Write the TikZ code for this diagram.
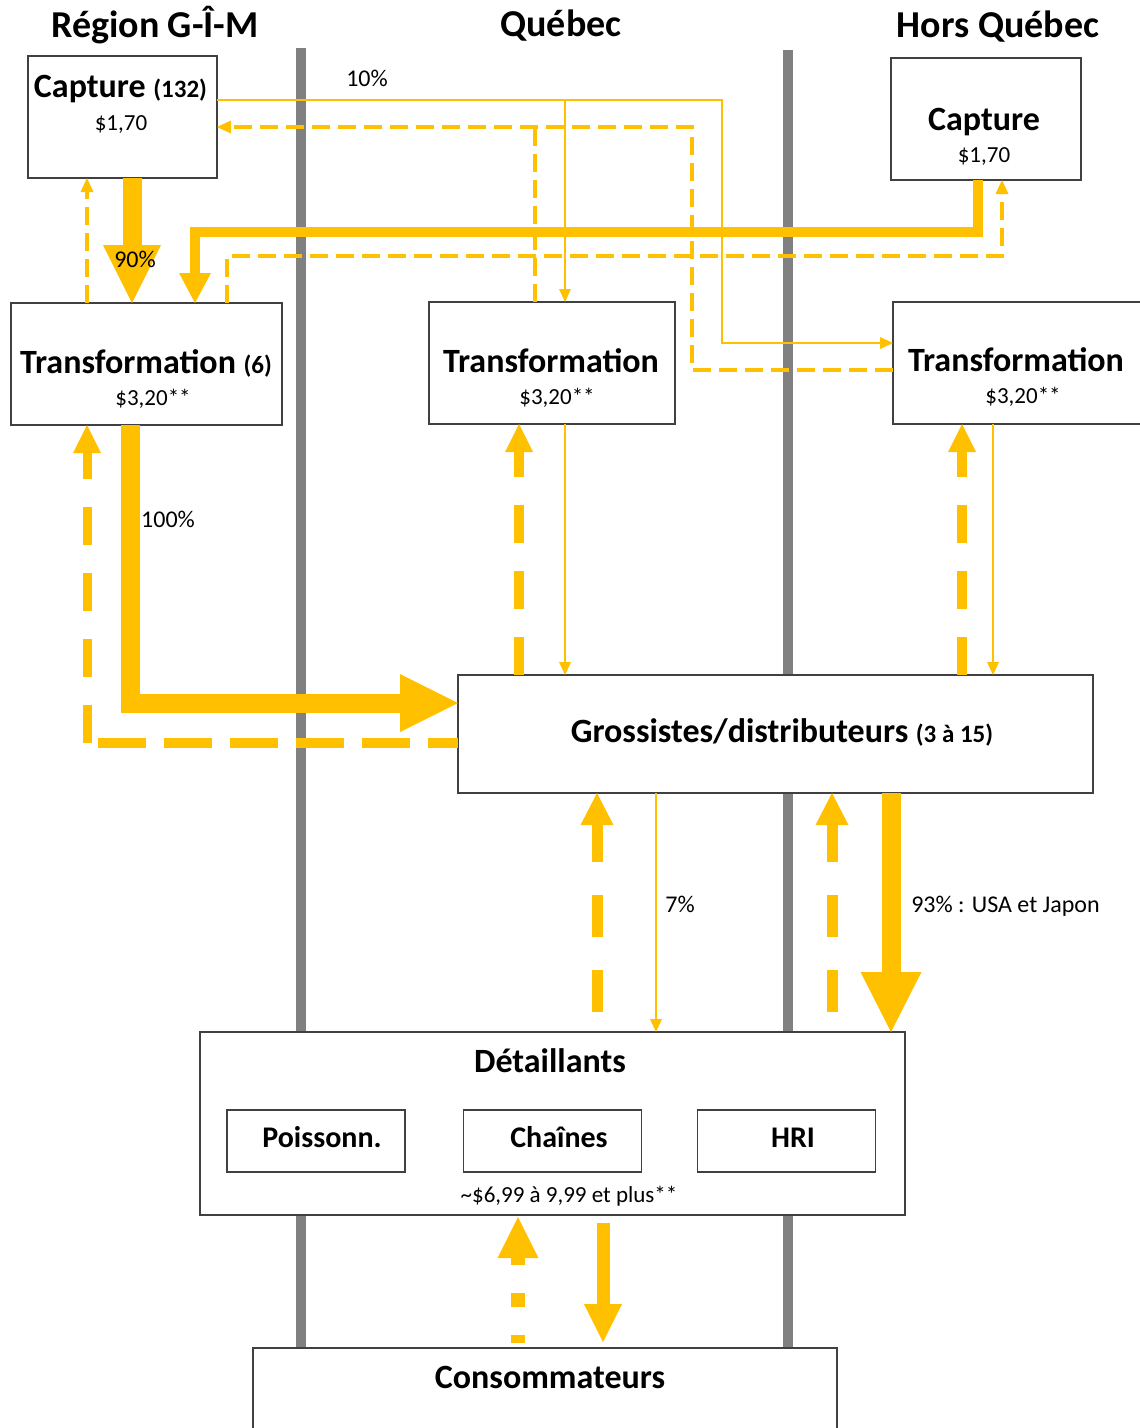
\documentclass[tikz,border=0pt]{standalone}
\usepackage{fontspec}
\setmainfont{Carlito}
\usetikzlibrary{arrows.meta}
\definecolor{gold}{HTML}{FFC000}
\definecolor{lanegray}{HTML}{808080}
\definecolor{boxline}{HTML}{404040}
\newcommand\fhead{\fontsize{38}{42}\selectfont\bfseries}
\newcommand\ftitle{\fontsize{34}{38}\selectfont\bfseries}
\newcommand\fnum{\fontsize{25}{28}\selectfont\bfseries}
\newcommand\fsub{\fontsize{30}{34}\selectfont\bfseries}
\newcommand\fprice{\fontsize{23}{26}\selectfont}
\newcommand\flab{\fontsize{24}{27}\selectfont}
\begin{document}
\begin{tikzpicture}[x=1pt,y=-1pt,
  lane/.style={draw=lanegray,line width=10pt},
  box/.style={draw=boxline,line width=1.3pt,fill=white,inner sep=0pt,outer sep=0pt},
  txt/.style={anchor=base,inner sep=0pt,text=black},
  thinflow/.style={draw=gold,line width=2pt,-{Triangle[width=12pt,length=13pt,line width=0pt]}},
  meddash/.style={draw=gold,line width=4.5pt,dash pattern=on 18pt off 8pt,-{Triangle[width=13pt,length=14pt,line width=0pt]}},
  meddashplain/.style={draw=gold,line width=4.5pt,dash pattern=on 18pt off 8pt},
  midflow/.style={draw=gold,line width=10pt,-{Triangle[width=32pt,length=30pt,line width=0pt]}},
  bigflow/.style={draw=gold,line width=19pt,-{Triangle[width=58pt,length=58pt,line width=0pt]}},
  bigdash/.style={draw=gold,line width=10pt,dash pattern=on 38pt off 28pt,-{Triangle[width=28pt,length=28pt,line width=0pt]}},
  bigdashplain/.style={draw=gold,line width=10pt},
  lowdash/.style={draw=gold,line width=11pt,dash pattern=on 42pt off 33pt,dash phase=55pt,-{Triangle[width=33pt,length=32pt,line width=0pt]}}
]
\useasboundingbox (0,0) rectangle (1140,1428);

% lane separators
\draw[lane] (301,48) -- (301,1348);
\draw[lane] (788,50) -- (788,1348);

% boxes
\node[box,minimum width=189pt,minimum height=122pt] (capG) at (122.5,117) {};
\node[box,minimum width=190pt,minimum height=122pt] (capH) at (986,119) {};
\node[box,minimum width=271pt,minimum height=122pt] (trG) at (146.5,364) {};
\node[box,minimum width=246pt,minimum height=122pt] (trQ) at (552,363) {};
\node[box,minimum width=260pt,minimum height=122pt] (trH) at (1023,363) {};
\node[box,minimum width=635pt,minimum height=118pt] (gros) at (775.5,734) {};
\node[box,minimum width=705pt,minimum height=183pt] (det) at (552.5,1123.5) {};
\node[box,minimum width=178pt,minimum height=62pt] (poi) at (316,1141) {};
\node[box,minimum width=178pt,minimum height=62pt] (cha) at (552.5,1141) {};
\node[box,minimum width=178pt,minimum height=62pt] (hri) at (786.5,1141) {};
\node[box,minimum width=584pt,minimum height=92pt] (cons) at (545,1394) {};

% helper coordinates
\coordinate (c10a) at (722,100);
\coordinate (c10b) at (722,343);
\coordinate (c10j) at (565,100);
\coordinate (dA) at (692,370);
\coordinate (dB) at (692,127);
\coordinate (dC) at (535,127);
\coordinate (hA) at (978,232);
\coordinate (hB) at (195,232);
\coordinate (eA) at (227,256);
\coordinate (eB) at (1002,256);
\coordinate (fA) at (87,240);
\coordinate (gA) at (132,240);
\coordinate (kA) at (130,703);
\coordinate (mA) at (87,743);
\coordinate (nA) at (519,550);
\coordinate (nB) at (962,550);
\coordinate (pA) at (565,550);
\coordinate (pB) at (993,550);
\coordinate (qA) at (597,900);
\coordinate (qB) at (832,900);
\coordinate (qC) at (656,900);
\coordinate (qD) at (891,900);
\coordinate (rA) at (518,1280);
\coordinate (rB) at (603,1280);

% top flows
\draw[thinflow] (capG.east |- c10a) -- (c10a) -- (c10b) -- (trH.west |- c10b);
\draw[thinflow] (c10j) -- (trQ.north -| c10j);
\draw[meddash] (trH.west |- dA) -- (dA) -- (dB) -- (capG.east |- dB);
\draw[meddashplain] (trQ.north -| dC) -- (dC);
\draw[midflow] (capH.south -| hA) -- (hA) -- (hB) -- (trG.north -| hB);
\draw[meddash] (trG.north -| eA) -- (eA) -- (eB) -- (capH.south -| eB);
\draw[meddash] (trG.north -| fA) -- (capG.south -| fA);
\draw[bigflow] (capG.south -| gA) -- (trG.north -| gA);

% transformation <-> grossistes
\draw[bigflow] (trG.south -| kA) -- (kA) -- (gros.west |- kA);
\draw[bigdashplain,line width=10pt,dash pattern=on 48pt off 18pt,dash phase=18pt] (gros.west |- mA) -- (mA);
\draw[bigdash,line width=9pt] (mA) -- (trG.south -| mA);
\draw[bigdash] (gros.north -| nA) -- (trQ.south -| nA);
\draw[bigdash] (gros.north -| nB) -- (trH.south -| nB);
\draw[thinflow] (trQ.south -| pA) -- (gros.north -| pA);
\draw[thinflow] (trH.south -| pB) -- (gros.north -| pB);

% grossistes <-> detaillants
\draw[lowdash] (det.north -| qA) -- (gros.south -| qA);
\draw[lowdash] (det.north -| qB) -- (gros.south -| qB);
\draw[thinflow] (gros.south -| qC) -- (det.north -| qC);
\draw[draw=gold,line width=19pt,-{Triangle[width=61pt,length=60pt,line width=0pt]}] (gros.south -| qD) -- (det.north -| qD);

% detaillants <-> consommateurs
\draw[draw=gold,line width=14pt,dash pattern=on 14pt off 28pt,dash phase=6pt,shorten <=5pt,shorten >=2pt,-{Triangle[width=41pt,length=41pt,line width=0pt]}] (cons.north -| rA) -- (det.south -| rA);
\draw[draw=gold,line width=13pt,shorten <=8pt,shorten >=6pt,-{Triangle[width=38pt,length=38pt,line width=0pt]}] (det.south -| rB) -- (cons.north -| rB);

% headings
\node[txt] (hG) at (155,37) {\fhead Région G-Î-M};
\node[txt] (hQ) at (561,36) {\fhead Québec};
\node[txt] (hH) at (998,37) {\fhead Hors Québec};

% box texts
\node[txt] (tCapG) at (120.5,97) {\ftitle Capture {\fnum(132)}};
\node[txt] (pCapG) at (121,130) {\fprice \$1,70};
\node[txt] (tCapH) at (984,130) {\ftitle Capture};
\node[txt] (pCapH) at (984,162) {\fprice \$1,70};
\node[txt] (tTrG) at (146,373) {\ftitle Transformation {\fnum(6)}};
\node[txt] (pTrG) at (153,405) {\fprice \$3,20**};
\node[txt] (tTrQ) at (551,372) {\ftitle Transformation};
\node[txt] (pTrQ) at (557,404) {\fprice \$3,20**};
\node[txt] (tTrH) at (1016,371) {\ftitle Transformation};
\node[txt] (pTrH) at (1023,403) {\fprice \$3,20**};
\node[txt] (tGros) at (782,742) {\ftitle Grossistes/distributeurs {\fnum(3 à 15)}};
\node[txt] (tDet) at (550,1072) {\ftitle Détaillants};
\node[txt] (tPoi) at (322,1147) {\fsub Poissonn.};
\node[txt] (tCha) at (559,1147) {\fsub Chaînes};
\node[txt] (tHri) at (793,1147) {\fsub HRI};
\node[txt] (pDet) at (569,1202) {\fprice \textasciitilde\$6,99 à 9,99 et plus**};
\node[txt] (tCons) at (550,1388) {\ftitle Consommateurs};

% flow labels
\node[txt] (l10) at (367,86) {\flab 10\%};
\node[txt] (l90) at (135,267) {\flab 90\%};
\node[txt] (l100) at (168,527) {\flab 100\%};
\node[txt] (l7) at (680,912) {\flab 7\%};
\node[txt] (l93) at (1005.5,912) {\flab 93\% : USA et Japon};
\end{tikzpicture}
\end{document}
